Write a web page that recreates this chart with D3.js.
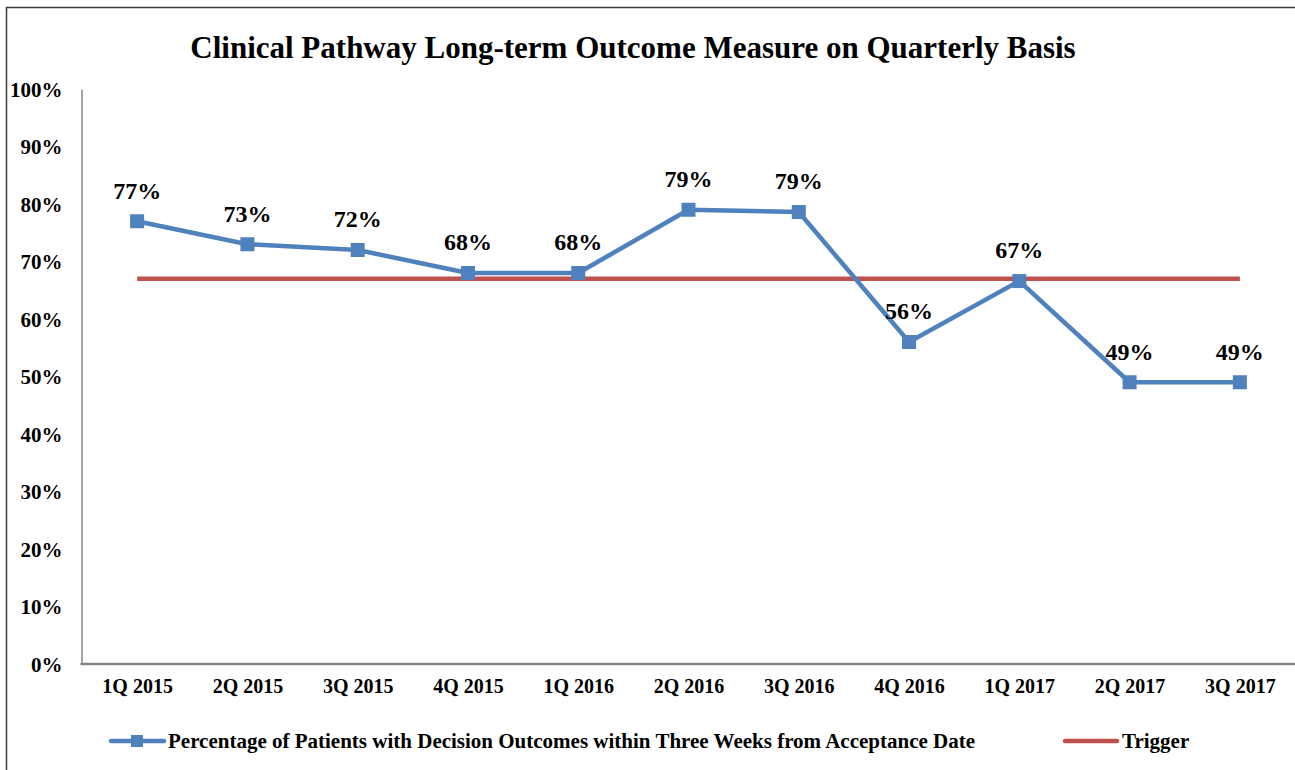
<!DOCTYPE html>
<html>
<head>
<meta charset="utf-8">
<script src="https://cdn.jsdelivr.net/npm/d3@7"></script>
<style>
  body { margin: 0; background: #fff; }
  svg text { font-family: "Liberation Serif", "Times New Roman", serif; font-weight: bold; fill: #000; }
</style>
</head>
<body>
<div id="chart"></div>
<script>
var categories = ["1Q 2015", "2Q 2015", "3Q 2015", "4Q 2015", "1Q 2016", "2Q 2016",
                  "3Q 2016", "4Q 2016", "1Q 2017", "2Q 2017", "3Q 2017"];
var pctValues = [0.77, 0.73, 0.72, 0.68, 0.68, 0.79, 0.786, 0.56, 0.666, 0.49, 0.49];
var triggerValue = 0.67;
var yTicks = [0, 0.1, 0.2, 0.3, 0.4, 0.5, 0.6, 0.7, 0.8, 0.9, 1.0];
var seriesName = "Percentage of Patients with Decision Outcomes within Three Weeks from Acceptance Date";
var triggerName = "Trigger";
var title = "Clinical Pathway Long-term Outcome Measure on Quarterly Basis";

var W = 1295, H = 770;
var plot = { left: 82, right: 1295, top: 89, bottom: 664 };

var svg = d3.select("#chart").append("svg")
  .attr("width", W)
  .attr("height", H);

// outer chart border (right/bottom run off the picture)
svg.append("rect")
  .attr("x", 6.5).attr("y", 7.5)
  .attr("width", W + 20).attr("height", H + 20)
  .attr("fill", "none")
  .attr("stroke", "#3c3c3c")
  .attr("stroke-width", 1.5);

svg.append("text")
  .attr("x", 633).attr("y", 58)
  .attr("text-anchor", "middle")
  .style("font-size", "31px")
  .text(title);

var x = d3.scalePoint()
  .domain(categories)
  .range([plot.left, plot.right])
  .padding(0.5);

var y = d3.scaleLinear()
  .domain([0, 1])
  .range([plot.bottom, plot.top]);

// y axis
var yAxis = svg.append("g")
  .attr("transform", "translate(" + (plot.left - 0.5) + ",0)")
  .call(d3.axisLeft(y).tickValues(yTicks).tickFormat(d3.format(".0%")).tickSize(0).tickPadding(19));
yAxis.select(".domain").attr("stroke", "#868686").attr("stroke-width", 1.5);
yAxis.selectAll("text").style("font-size", "21px").attr("dy", "0.35em");

// x axis
var xAxis = svg.append("g")
  .attr("transform", "translate(0," + plot.bottom + ")")
  .call(d3.axisBottom(x).tickSize(0).tickPadding(15));
xAxis.select(".domain").attr("stroke", "#868686").attr("stroke-width", 2.5)
  .attr("d", "M" + (plot.left - 1.5) + ",0H" + (plot.right + 10));
xAxis.selectAll("text").style("font-size", "20px");

// trigger line
svg.append("path")
  .datum(categories)
  .attr("fill", "none")
  .attr("stroke", "#C0504D")
  .attr("stroke-width", 4.5)
  .attr("d", d3.line().x(function(d) { return x(d); }).y(function() { return y(triggerValue); }));

// series line
var pts = categories.map(function(c, i) { return { cat: c, v: pctValues[i] }; });

svg.append("path")
  .datum(pts)
  .attr("fill", "none")
  .attr("stroke", "#4F81BD")
  .attr("stroke-width", 4.5)
  .attr("stroke-linejoin", "round")
  .attr("d", d3.line().x(function(d) { return x(d.cat); }).y(function(d) { return y(d.v); }));

svg.selectAll("rect.marker")
  .data(pts)
  .enter().append("rect")
  .attr("class", "marker")
  .attr("x", function(d) { return x(d.cat) - 7; })
  .attr("y", function(d) { return y(d.v) - 7; })
  .attr("width", 14).attr("height", 14)
  .attr("fill", "#4F81BD");

svg.selectAll("text.label")
  .data(pts)
  .enter().append("text")
  .attr("class", "label")
  .attr("x", function(d) { return x(d.cat); })
  .attr("y", function(d) { return y(d.v) - 31; })
  .attr("dy", "0.35em")
  .attr("text-anchor", "middle")
  .style("font-size", "24px")
  .text(function(d) { return d3.format(".0%")(d.v); });

// legend
var lg = svg.append("g").attr("transform", "translate(0,741)");
lg.append("line")
  .attr("x1", 111).attr("x2", 164).attr("y1", 0).attr("y2", 0)
  .attr("stroke", "#4F81BD").attr("stroke-width", 4.5).attr("stroke-linecap", "round");
lg.append("rect")
  .attr("x", 131).attr("y", -6).attr("width", 12).attr("height", 12)
  .attr("fill", "#4F81BD");
lg.append("text")
  .attr("x", 168).attr("y", 0).attr("dy", "0.35em")
  .style("font-size", "21px")
  .text(seriesName);
lg.append("line")
  .attr("x1", 1065).attr("x2", 1117).attr("y1", 0).attr("y2", 0)
  .attr("stroke", "#C0504D").attr("stroke-width", 4.5).attr("stroke-linecap", "round");
lg.append("text")
  .attr("x", 1122).attr("y", 0).attr("dy", "0.35em")
  .style("font-size", "21px")
  .text(triggerName);
</script>
</body>
</html>
